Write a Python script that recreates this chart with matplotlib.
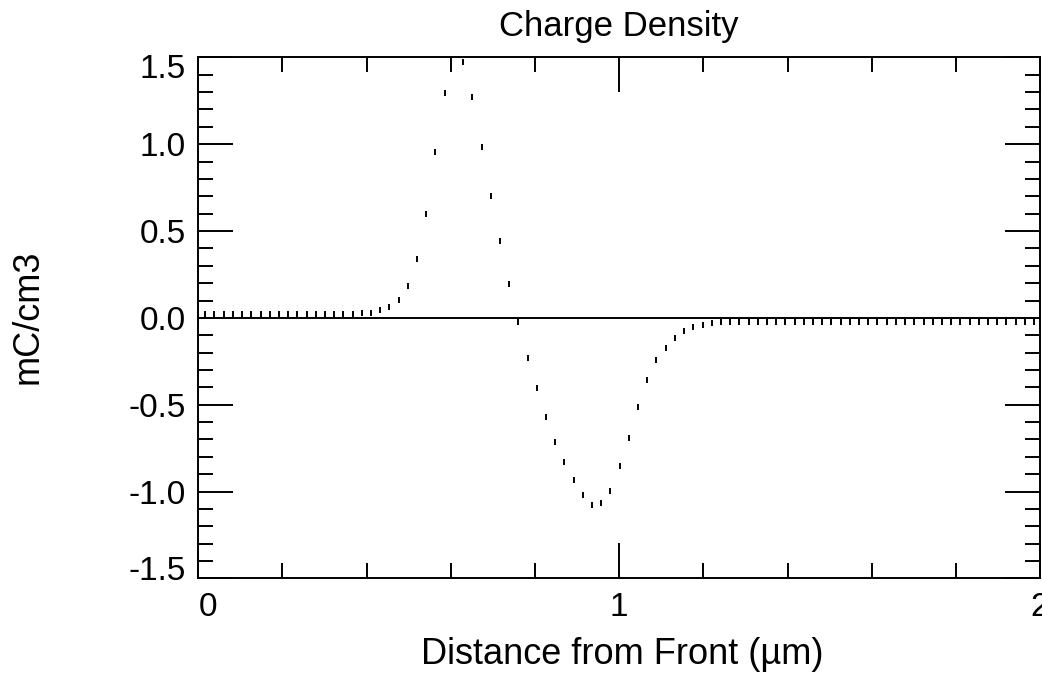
import numpy as np
import matplotlib
matplotlib.use("Agg")
from matplotlib import pyplot as plt
from matplotlib.ticker import FormatStrFormatter
from matplotlib.transforms import offset_copy

# charge density (mC/cm3) on the simulation mesh
x_start = 0.0166
x_step = 0.02188
rho = [0.02] * 17 + [
    0.031, 0.031, 0.044, 0.065, 0.102, 0.185, 0.339, 0.598, 0.953, 1.294,
    1.58, 1.473, 1.270, 0.986, 0.704, 0.444, 0.194, -0.026, -0.229, -0.405,
    -0.571, -0.713, -0.830, -0.936, -1.017, -1.078, -1.065, -0.994, -0.854,
    -0.690, -0.513, -0.359, -0.242, -0.171, -0.114, -0.075, -0.052, -0.040,
    -0.027,
] + [-0.022] * 35

x_mesh = [0.0] + list(x_start + x_step * np.arange(len(rho)))
y_mesh = [0.0] + rho

x_major = [0, 1, 2]
x_minor = [0.2, 0.4, 0.6, 0.8, 1.2, 1.4, 1.6, 1.8]
y_major = [-1.5, -1.0, -0.5, 0.0, 0.5, 1.0, 1.5]
y_minor = [-1.4, -1.3, -1.2, -1.1, -0.9, -0.8, -0.7, -0.6, -0.4, -0.3,
           -0.2, -0.1, 0.1, 0.2, 0.3, 0.4, 0.6, 0.7, 0.8, 0.9,
           1.1, 1.2, 1.3, 1.4]

title = "Charge Density"
x_label = "Distance from Front (\u00b5m)"
y_label = "mC/cm3"

plt.rcParams['font.family'] = ['Liberation Sans', 'DejaVu Sans']
plt.rcParams['axes.unicode_minus'] = False

fig = plt.figure(figsize=(10.42, 6.75), dpi=100)
ax = fig.add_axes([0.1903, 0.1430, 0.8078, 0.7721])

ax.axhline(0, color='black', lw=1.4, zorder=1)
ax.plot(x_mesh, y_mesh, linestyle='none', marker='|', color='black',
        markersize=4.5, markeredgewidth=1.4, zorder=2)

ax.set_xlim(0, 2)
ax.set_ylim(-1.5, 1.5)

ax.set_xticks(x_major)
ax.set_xticks(x_minor, minor=True)
ax.set_yticks(y_major)
ax.set_yticks(y_minor, minor=True)
ax.yaxis.set_major_formatter(FormatStrFormatter('%.1f'))

for s in ax.spines.values():
    s.set_linewidth(1.4)

ax.tick_params(which='both', direction='in', top=True, right=True,
               width=1.4, colors='black', labelsize=24)
ax.tick_params(which='major', length=25)
ax.tick_params(which='minor', length=11)
ax.tick_params(axis='y', pad=9)
ax.tick_params(axis='x', pad=10)

ax.set_title(title, fontsize=25, pad=15)
fig.text(622 / 1042, 1 - 654 / 675, x_label, fontsize=26,
         ha='center', va='center')
fig.text(28 / 1042, 1 - 317 / 675, y_label, fontsize=26,
         rotation=90, ha='center', va='center')

# IDL keeps the end labels inside the axis range
fig.canvas.draw()
for t in ax.yaxis.get_major_ticks():
    if abs(t.get_loc() - 1.5) < 1e-9:
        t.label1.set_transform(offset_copy(t.label1.get_transform(),
                                           fig=fig, y=-9, units='dots'))
    elif abs(t.get_loc() + 1.5) < 1e-9:
        t.label1.set_transform(offset_copy(t.label1.get_transform(),
                                           fig=fig, y=10, units='dots'))
for t in ax.xaxis.get_major_ticks():
    if abs(t.get_loc()) < 1e-9:
        t.label1.set_horizontalalignment('left')

fig.savefig("out.png", dpi=100, facecolor='white')
